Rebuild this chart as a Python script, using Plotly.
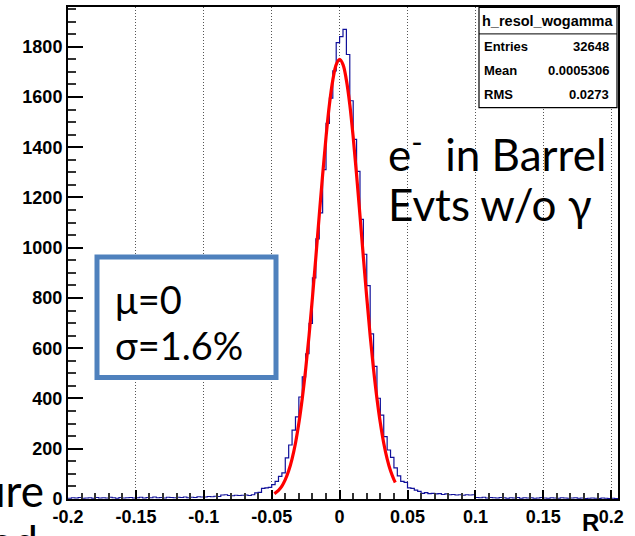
import numpy as np
import plotly.graph_objects as go

# ---------------- data ----------------
bin_min = -0.2
bin_width = 0.0025
# counts per bin, 162 bins from -0.2 to 0.205
counts_left_tail = [3, 5, 4, 6, 3, 4, 5, 3, 6, 4, 5, 4, 7, 5, 3, 6, 4, 5, 6, 4,
                    5, 7, 4, 6, 5, 8, 5, 6, 4, 7, 6, 5, 7, 6, 8, 5, 7, 6, 9, 8]
counts_left_mid = [8, 10, 9, 11, 10, 16, 17, 14, 13, 15, 14, 15, 16, 14, 17, 24, 26, 42, 44, 46]
counts_left_core = [57, 70, 90, 104, 164, 215, 274, 327, 406, 486,
                    578, 699, 880, 1035, 1139, 1311, 1495, 1595, 1704, 1816]
counts_right_core = [1840, 1869, 1769, 1585, 1431, 1304, 1113, 974, 849, 657,
                     528, 401, 334, 248, 195, 166, 124, 92, 70, 66]
counts_right_mid = [44, 42, 35, 30, 22, 25, 21, 22, 20, 21, 18, 20, 17, 18, 16, 17, 15, 17, 16, 17]
counts_right_tail = [6, 5, 7, 4, 6, 5, 4, 6, 5, 3, 5, 4, 6, 3, 5, 4, 5, 3, 4, 6,
                     4, 3, 5, 4, 3, 5, 4, 3, 4, 5, 3, 4, 2, 3, 4, 3, 2, 4, 3, 2, 3, 2]
counts = (counts_left_tail + counts_left_mid + counts_left_core +
          counts_right_core + counts_right_mid + counts_right_tail)

# gaussian fit curve
fit_x = [-0.048, -0.045, -0.0425, -0.04, -0.0375, -0.035, -0.0325, -0.03, -0.0275, -0.025,
         -0.0225, -0.02, -0.0175, -0.015, -0.0125, -0.01, -0.0075, -0.005, -0.0025, 0.0,
         0.0025, 0.005, 0.0075, 0.01, 0.0125, 0.015, 0.0175, 0.02, 0.0225, 0.025,
         0.0275, 0.03, 0.0325, 0.035, 0.0375, 0.04, 0.041]
fit_y = [21, 34, 51, 77, 112, 160, 222, 302, 400, 516,
         650, 801, 962, 1128, 1290, 1440, 1570, 1667, 1729, 1750,
         1729, 1667, 1570, 1440, 1290, 1128, 962, 801, 650, 516,
         400, 302, 222, 160, 112, 77, 66]

x_tickvals = [-0.2, -0.15, -0.1, -0.05, 0, 0.05, 0.1, 0.15, 0.2]
x_ticktext = ["-0.2", "-0.15", "-0.1", "-0.05", "0", "0.05", "0.1", "0.15", "0.2"]
y_tickvals = [0, 200, 400, 600, 800, 1000, 1200, 1400, 1600, 1800]

stats_title = "h_resol_wogamma"
stats_names = ["Entries", "Mean", "RMS"]
stats_values = ["32648", "0.0005306", "0.0273"]

# ---------------- layout geometry ----------------
W, H = 635, 536
PL, PR, PT, PB = 68, 618, 5, 499


def px(x):
    return (x - PL) / (PR - PL)


def py(y):
    return (PB - y) / (PB - PT)


edges = bin_min + bin_width * np.arange(len(counts) + 1)
step_y = counts + [counts[-1]]

fig = go.Figure()
fig.add_trace(go.Scatter(x=edges, y=step_y, mode="lines", line_shape="hv",
                         line=dict(color="#10109a", width=1.2), hoverinfo="skip"))
fig.add_trace(go.Scatter(x=fit_x, y=fit_y, mode="lines", line_shape="spline",
                         line=dict(color="#ff0000", width=3.2), hoverinfo="skip"))

tickfont = dict(family="Liberation Sans", size=18, color="black", weight="bold")

fig.update_layout(
    width=W, height=H, showlegend=False,
    margin=dict(l=PL, r=W - PR, t=PT, b=H - PB, pad=0),
    paper_bgcolor="white", plot_bgcolor="white",
    xaxis=dict(range=[-0.2, 0.205], tickvals=x_tickvals, ticktext=x_ticktext,
               ticks="inside", ticklen=9, tickwidth=1.5, tickcolor="black",
               showline=True, linecolor="black", linewidth=2, mirror=True,
               showgrid=True, gridcolor="#555555", griddash="1px,2px", gridwidth=1,
               zeroline=False, tickfont=tickfont,
               minor=dict(ticks="inside", ticklen=6, dtick=0.01, tick0=0,
                          tickcolor="#333333", showgrid=False)),
    yaxis=dict(range=[0, 1958], tickvals=y_tickvals,
               ticks="inside", ticklen=15, tickwidth=1.5, tickcolor="black",
               showline=True, linecolor="black", linewidth=2, mirror=True,
               showgrid=False, zeroline=False, tickfont=tickfont,
               minor=dict(ticks="inside", ticklen=8, dtick=50, tick0=0,
                          tickcolor="#333333", showgrid=False)),
)

shapes = []
# stats box
shapes.append(dict(type="rect", xref="paper", yref="paper",
                   x0=px(479), x1=px(617), y0=py(106), y1=py(5.5),
                   line=dict(color="black", width=1.2), fillcolor="white", layer="above"))
shapes.append(dict(type="line", xref="paper", yref="paper",
                   x0=px(479), x1=px(617), y0=py(32), y1=py(32),
                   line=dict(color="black", width=1), layer="above"))
# blue text box
shapes.append(dict(type="rect", xref="paper", yref="paper",
                   x0=px(97), x1=px(276), y0=py(377), y1=py(256),
                   line=dict(color="#4f81bd", width=5), fillcolor="white", layer="above"))
fig.update_layout(shapes=shapes)

ann = []
sfont = dict(family="Liberation Sans", size=13, color="black", weight="bold")
ann.append(dict(x=px(547), y=py(19), xref="paper", yref="paper", text=stats_title,
                showarrow=False, xanchor="center", yanchor="middle",
                font=dict(family="Liberation Sans", size=14.5, color="black", weight="bold")))
for i, (n, v) in enumerate(zip(stats_names, stats_values)):
    yy = py(45 + 24 * i)
    ann.append(dict(x=px(482), y=yy, xref="paper", yref="paper", text=n,
                    showarrow=False, xanchor="left", yanchor="middle", font=sfont))
    ann.append(dict(x=px(611), y=yy, xref="paper", yref="paper", text=v,
                    showarrow=False, xanchor="right", yanchor="middle", font=sfont))

bigfont = dict(family="Lato", size=44, color="black")
boxfont = dict(family="Lato", size=38, color="black")
ann.append(dict(x=px(386), y=py(150), xref="paper", yref="paper",
                text="e<sup>-</sup>  in Barrel", showarrow=False,
                xanchor="left", yanchor="middle", font=bigfont))
ann.append(dict(x=px(386), y=py(203), xref="paper", yref="paper",
                text="Evts w/o γ", showarrow=False,
                xanchor="left", yanchor="middle", font=bigfont))
ann.append(dict(x=px(113), y=py(298), xref="paper", yref="paper",
                text="μ=0", showarrow=False,
                xanchor="left", yanchor="middle", font=boxfont))
ann.append(dict(x=px(113), y=py(344), xref="paper", yref="paper",
                text="σ=1.6%", showarrow=False,
                xanchor="left", yanchor="middle", font=boxfont))
# axis title
ann.append(dict(x=px(590), y=py(523), xref="paper", yref="paper", text="R",
                showarrow=False, xanchor="center", yanchor="middle",
                font=dict(family="Liberation Sans", size=24, color="black", weight="bold")))
# cropped slide text at bottom-left
ann.append(dict(x=px(46), y=py(490), xref="paper", yref="paper", text="ure",
                showarrow=False, xanchor="right", yanchor="middle", font=bigfont))
ann.append(dict(x=px(40), y=py(541), xref="paper", yref="paper", text="ed",
                showarrow=False, xanchor="right", yanchor="middle", font=bigfont))
fig.update_layout(annotations=ann)

fig.write_html("out.html")
